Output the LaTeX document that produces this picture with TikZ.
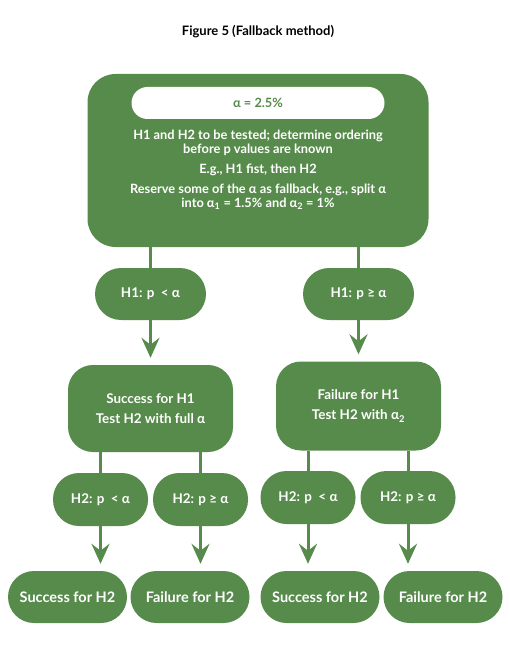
\documentclass[tikz,border=0pt]{standalone}
\usepackage{fontspec}
\setmainfont{Lato}
\usetikzlibrary{arrows.meta}
\definecolor{fgreen}{RGB}{87,139,75}
\begin{document}
\begin{tikzpicture}[x=1pt,y=-1pt,
  box/.style={fill=fgreen,draw=none,inner sep=0pt,text=white,font=\bfseries\fontsize{13.4}{20}\selectfont,align=center},
  pill/.style={box,rounded corners=26pt},
  bpill/.style={pill,font=\bfseries\fontsize{14.5}{16}\selectfont},
  mbox/.style={box,rounded corners=25pt,minimum width=165pt},
  txt/.style={text=white,font=\bfseries\fontsize{12.8}{14}\selectfont,align=center,inner sep=0pt},
  conn/.style={draw=fgreen,line width=3pt},
  arr/.style={conn,-{Stealth[length=20pt,width=18pt,inset=7pt]},shorten >=7pt}
]
\useasboundingbox (0,0) rectangle (510,660);
\node[font=\bfseries\fontsize{13}{15}\selectfont,inner sep=0pt] (title) at (258,32) {Figure 5 (Fallback method)};
% top box
\node[box,rounded corners=28pt,minimum width=341pt,minimum height=173pt] (top) at (258,160.5) {};
\node[fill=white,rounded corners=16pt,minimum width=253pt,minimum height=32pt,inner sep=0pt,text=fgreen,font=\bfseries\fontsize{12.8}{14}\selectfont] (alpha) at (258,103) {α = 2.5\%};
\node[txt] (t1) at (258,143) {H1 and H2 to be tested; determine ordering\\before p values are known};
\node[txt] (t2) at (258,170) {E.g., H1 fist, then H2};
\node[txt] (t3) at (258,197) {Reserve some of the α as fallback, e.g., split α\\into α\textsubscript{1} = 1.5\% and α\textsubscript{2} = 1\%};
% H1 pills
\node[pill,minimum width=111pt,minimum height=52pt] (h1a) at (150.5,294) {H1: p \ < α};
\node[pill,minimum width=111pt,minimum height=52pt] (h1b) at (358.5,294) {H1: p ≥ α};
% middle boxes
\node[mbox,minimum height=87pt] (ma) at (150.5,408.5) {Success for H1\\Test H2 with full α};
\node[mbox,minimum height=89pt] (mb) at (358.5,406) {Failure for H1\\Test H2 with α\textsubscript{2}};
% H2 pills
\node[pill,minimum width=95pt,minimum height=53pt] (h2a) at (100.5,499.5) {H2: p \ < α};
\node[pill,minimum width=95pt,minimum height=53pt] (h2b) at (200.5,499.5) {H2: p ≥ α};
\node[pill,minimum width=95pt,minimum height=53pt] (h2c) at (308,497.5) {H2: p \ < α};
\node[pill,minimum width=95pt,minimum height=53pt] (h2d) at (408,497.5) {H2: p ≥ α};
% bottom pills
\node[bpill,minimum width=119pt,minimum height=52pt] (ra) at (67.5,597) {Success for H2};
\node[bpill,minimum width=119pt,minimum height=52pt] (rb) at (190,597) {Failure for H2};
\node[bpill,minimum width=119pt,minimum height=52pt] (rc) at (320,597) {Success for H2};
\node[bpill,minimum width=119pt,minimum height=52pt] (rd) at (443,597) {Failure for H2};
% connectors
\draw[conn] (h1a.north |- top.south) -- (h1a.north);
\draw[conn] (h1b.north |- top.south) -- (h1b.north);
\draw[arr] (h1a.south) -- (h1a.south |- ma.north);
\draw[arr] (h1b.south) -- (h1b.south |- mb.north);
\draw[conn] (h2a.north |- ma.south) -- (h2a.north);
\draw[conn] (h2b.north |- ma.south) -- (h2b.north);
\draw[conn] (h2c.north |- mb.south) -- (h2c.north);
\draw[conn] (h2d.north |- mb.south) -- (h2d.north);
\draw[arr] (h2a.south) -- (h2a.south |- ra.north);
\draw[arr] (h2b.south) -- (h2b.south |- rb.north);
\draw[arr] (h2c.south) -- (h2c.south |- rc.north);
\draw[arr] (h2d.south) -- (h2d.south |- rd.north);
\end{tikzpicture}
\end{document}
